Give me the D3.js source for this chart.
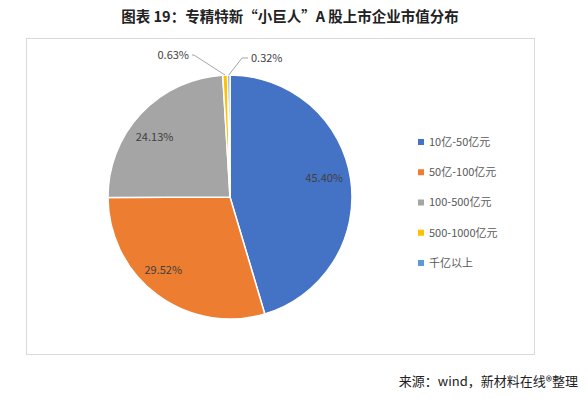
<!DOCTYPE html>
<html>
<head>
<meta charset="utf-8">
<script src="https://cdn.jsdelivr.net/npm/d3@7"></script>
<style>
  body { margin: 0; background: #fff; }
  text { font-family: "Noto Sans CJK SC", "Noto Sans", sans-serif; }
</style>
</head>
<body>
<div id="viz"></div>
<script>
// data
const categories = ['10亿-50亿元', '50亿-100亿元', '100-500亿元', '500-1000亿元', '千亿以上'];
const shares = [45.40, 29.52, 24.13, 0.63, 0.32];
const colors = ['#4472C4', '#ED7D31', '#A5A5A5', '#FFC000', '#5B9BD5'];

const width = 588, height = 399;
const cx = 230, cy = 197, radius = 122;

const svg = d3.select('#viz').append('svg')
  .attr('width', width)
  .attr('height', height);

// title
svg.append('text')
  .attr('x', 290).attr('y', 22)
  .attr('text-anchor', 'middle')
  .style('font-size', '14.5px')
  .style('font-weight', 'bold')
  .style('fill', '#222')
  .text('图表 19：专精特新“小巨人”A 股上市企业市值分布');

// chart frame
svg.append('rect')
  .attr('x', 26.5).attr('y', 38.5)
  .attr('width', 508).attr('height', 316)
  .style('fill', 'none')
  .style('stroke', '#d9d9d9');

const data = categories.map((c, i) => ({name: c, value: shares[i], color: colors[i]}));

const pie = d3.pie().value(d => d.value).sort(null);
const arcs = pie(data);
const arcGen = d3.arc().innerRadius(0).outerRadius(radius);

const g = svg.append('g').attr('transform', `translate(${cx},${cy})`);

g.selectAll('path')
  .data(arcs)
  .join('path')
  .attr('d', arcGen)
  .style('fill', d => d.data.color)
  .style('stroke', '#fff')
  .style('stroke-width', 1.5);

// inside labels for the large slices
const labelArc = d3.arc().innerRadius(radius * 0.78).outerRadius(radius * 0.78);
const insideOffsets = [[0, -5], [-10, -3], [-6, 5]];
g.selectAll('text.inside')
  .data(arcs.slice(0, 3))
  .join('text')
  .attr('class', 'inside')
  .attr('x', (d, i) => labelArc.centroid(d)[0] + insideOffsets[i][0])
  .attr('y', (d, i) => labelArc.centroid(d)[1] + insideOffsets[i][1])
  .attr('dy', '0.35em')
  .attr('text-anchor', 'middle')
  .style('font-size', '11px')
  .style('fill', '#404040')
  .text(d => d.data.value.toFixed(2) + '%');

// outside labels with leader lines for the tiny slices
const edgeArc = d3.arc().innerRadius(radius).outerRadius(radius);
const outside = arcs.slice(3);
const outLabel = [{x: -41, y: -142, anchor: 'end', bend: -36}, {x: 21, y: -139, anchor: 'start', bend: 12}];

outside.forEach((d, i) => {
  const p = edgeArc.centroid(d);
  const o = outLabel[i];
  const bendX = o.bend;
  const endX = o.anchor === 'end' ? o.x + 3 : o.x - 3;
  g.append('polyline')
    .attr('points', [[p[0], p[1]], [bendX, o.y], [endX, o.y]].map(q => q.join(',')).join(' '))
    .style('fill', 'none')
    .style('stroke', '#a6a6a6')
    .style('stroke-width', 1);
  g.append('text')
    .attr('x', o.x)
    .attr('y', o.y)
    .attr('dy', '0.35em')
    .attr('text-anchor', o.anchor)
    .style('font-size', '11px')
    .style('fill', '#404040')
    .text(d.data.value.toFixed(2) + '%');
});

// legend
const legendY = d3.scalePoint().domain(categories).range([142, 263]);
const legend = svg.append('g');
legend.selectAll('rect')
  .data(data)
  .join('rect')
  .attr('x', 418)
  .attr('y', d => legendY(d.name) - 3)
  .attr('width', 6).attr('height', 6)
  .style('fill', d => d.color);
legend.selectAll('text')
  .data(data)
  .join('text')
  .attr('x', 429)
  .attr('y', d => legendY(d.name))
  .attr('dy', '0.35em')
  .style('font-size', '11px')
  .style('fill', '#595959')
  .text(d => d.name);

// source note
svg.append('text')
  .attr('x', 578).attr('y', 386)
  .attr('text-anchor', 'end')
  .style('font-size', '13px')
  .style('fill', '#222')
  .text('来源：wind，新材料在线®整理');
</script>
</body>
</html>
